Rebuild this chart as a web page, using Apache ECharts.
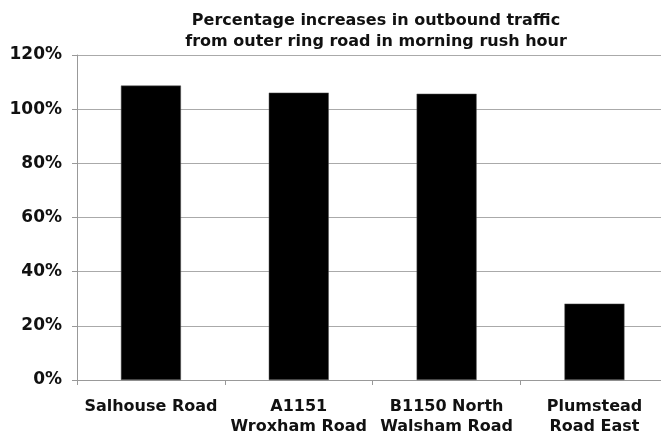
<!DOCTYPE html>
<html><head><meta charset="utf-8">
<script src="https://cdn.jsdelivr.net/npm/echarts@6/dist/echarts.min.js"></script>
<style>html,body{margin:0;padding:0;background:#fff}#c{width:661px;height:437px}</style>
</head><body><div id="c"></div>
<script>
const categories = ['Salhouse Road', 'A1151\nWroxham Road', 'B1150 North\nWalsham Road', 'Plumstead\nRoad East'];
const values = [108.7, 106.1, 105.7, 28.2];
const titleText = 'Percentage increases in outbound traffic\nfrom outer ring road in morning rush hour';

// category bands on a value axis: band i spans [i, i+1], centre at i+0.5
const centres = categories.map((c, i) => i + 0.5);
const bounds = [0, 1, 2, 3, 4];
const barData = values.map((v, i) => [centres[i], v]);

const chart = echarts.init(document.getElementById('c'), null, {renderer: 'canvas'});
chart.setOption({
  animation: false,
  backgroundColor: '#fff',
  title: {
    text: titleText, left: 371, textAlign: 'center', top: 5,
    textStyle: {fontFamily: 'DejaVu Sans', fontWeight: 'bold', fontSize: 16, lineHeight: 21, color: '#111'}
  },
  grid: {left: 77, top: 55, right: 0, height: 328, containLabel: false},
  xAxis: {
    type: 'value', min: 0, max: 3.95,
    splitLine: {show: false},
    axisLine: {show: true, onZero: false, lineStyle: {color: '#999', width: 1}},
    axisTick: {show: true, length: 5, customValues: bounds, lineStyle: {color: '#999'}},
    axisLabel: {
      customValues: centres,
      formatter: (v) => categories[Math.round(v - 0.5)] || '',
      fontFamily: 'DejaVu Sans', fontWeight: 'bold', fontSize: 16, color: '#111', lineHeight: 20, margin: 17
    }
  },
  yAxis: {
    type: 'value', min: 0, max: 120, interval: 20,
    axisLine: {show: true, lineStyle: {color: '#999', width: 1}},
    axisTick: {show: true, length: 5, lineStyle: {color: '#999'}},
    splitLine: {show: true, lineStyle: {color: '#aaa', width: 1}},
    axisLabel: {formatter: '{value}%', fontFamily: 'DejaVu Sans', fontWeight: 'bold', fontSize: 17, color: '#111', margin: 15}
  },
  series: [{
    type: 'bar', data: barData, barWidth: 60,
    itemStyle: {color: '#000', borderColor: '#555', borderWidth: 0.5}
  }]
});
</script></body></html>
